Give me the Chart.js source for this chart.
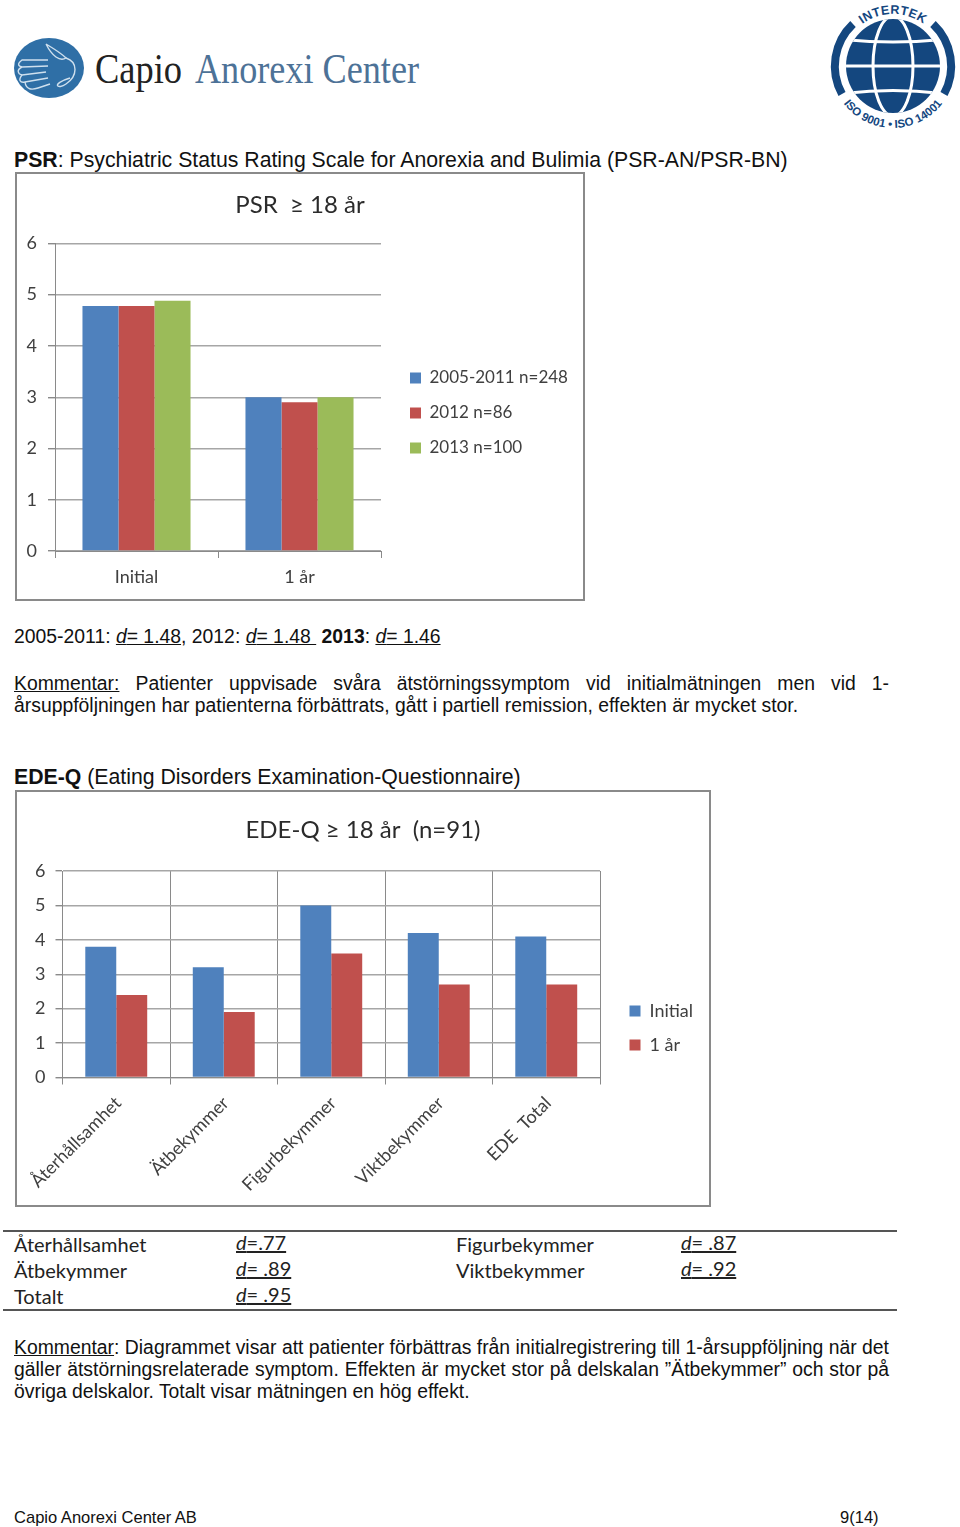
<!DOCTYPE html>
<html>
<head>
<meta charset="utf-8">
<title>PSR och EDE-Q</title>
<script src="https://cdn.jsdelivr.net/npm/chart.js@4"></script>
<style>
html,body{margin:0;padding:0;background:#fff;}
#page{position:relative;width:960px;height:1527px;overflow:hidden;font-family:"Liberation Sans",Arial,sans-serif;color:#111;}
.t{position:absolute;white-space:pre;margin:0;line-height:22px;}
.h{font-size:21.25px;}
.b{font-size:19.37px;}
.j{white-space:normal;width:875px;text-align:justify;text-align-last:justify;}
.c{font-family:Lato,sans-serif;font-size:20px;color:#222;line-height:26px;}
.f{font-size:16.55px;}
canvas{position:absolute;outline:2px solid #8a8a8a;outline-offset:-2px;}
.rule{position:absolute;left:3px;width:894px;height:2px;background:#555;}
svg{position:absolute;overflow:visible;}
</style>
</head>
<body>
<div id="page">
<svg style="left:0;top:0" width="960" height="140">
  <ellipse cx="49" cy="68" rx="35" ry="30" fill="#2f6fa6"/>
  <g fill="none" stroke="#cfe0ee" stroke-width="1.4">
    <path d="M46 44 C56 50 64 56 66 58 C60 62 52 56 46 44"/>
    <path d="M66 58 C78 62 78 76 66 84 C58 90 50 84 70 78"/>
    <path d="M48 60 L22 60 C17 64 18 66 22 67 L48 66"/>
    <path d="M22 67 C16 70 18 74 22 75 L46 72"/>
    <path d="M22 75 C18 80 20 83 25 82 L48 78"/>
    <path d="M25 82 C26 90 32 90 38 88 L50 84"/>
  </g>
  <text x="95" y="83" font-family="'Liberation Serif',serif" font-size="42" textLength="87" lengthAdjust="spacingAndGlyphs" fill="#222">Capio</text>
  <text x="195" y="83" font-family="'Liberation Serif',serif" font-size="42" textLength="224" lengthAdjust="spacingAndGlyphs" fill="#4d7297">Anorexi Center</text>
  <defs>
    <clipPath id="globe"><circle cx="893" cy="66" r="47"/></clipPath>
    <path id="arcTop" d="M841 66 A52 52 0 0 1 945 66"/>
    <path id="arcBot" d="M839.3 35 A62 62 0 1 0 946.7 35"/>
  </defs>
  <circle cx="893" cy="66" r="47" fill="#14477f"/>
  <g clip-path="url(#globe)" fill="none" stroke="#fff" stroke-width="3">
    <ellipse cx="893" cy="66" rx="20" ry="50"/>
    <path d="M840 39 Q893 45 946 39"/>
    <path d="M840 66 L946 66"/>
    <path d="M840 94 Q893 87 946 94"/>
  </g>
  <g fill="none" stroke="#14477f" stroke-width="8">
    <path d="M853 24 A58 58 0 0 0 842 94"/>
    <path d="M933 24 A58 58 0 0 1 944 94"/>
  </g>
  <text font-family="'Liberation Sans',sans-serif" font-weight="bold" font-size="12.5" fill="#14477f" letter-spacing="0.4"><textPath href="#arcTop" startOffset="50%" text-anchor="middle">INTERTEK</textPath></text>
  <text font-family="'Liberation Sans',sans-serif" font-weight="bold" font-size="11.5" fill="#14477f"><textPath href="#arcBot" startOffset="50%" text-anchor="middle">ISO 9001 • ISO 14001</textPath></text>
</svg>

<div class="t h" style="left:14px;top:149px"><b>PSR</b>: Psychiatric Status Rating Scale for Anorexia and Bulimia (PSR-AN/PSR-BN)</div>
<canvas id="psrChart" width="570" height="429" style="left:15px;top:172px"></canvas>
<div class="t b" style="left:14px;top:625px">2005-2011: <u><i>d</i>= 1.48</u>, 2012: <u><i>d</i>= 1.48&nbsp;</u> <b>2013</b>: <u><i>d</i>= 1.46</u></div>
<div class="t b j" style="left:14px;top:672px"><u>Kommentar:</u> Patienter uppvisade svåra ätstörningssymptom vid initialmätningen men vid 1-</div>
<div class="t b" style="left:14px;top:694px">årsuppföljningen har patienterna förbättrats, gått i partiell remission, effekten är mycket stor.</div>

<div class="t h" style="left:14px;top:766px"><b>EDE-Q</b> (Eating Disorders Examination-Questionnaire)</div>
<canvas id="edeChart" width="696" height="417" style="left:15px;top:790px"></canvas>

<div class="rule" style="top:1230px"></div>
<div class="t c" style="left:14px;top:1231px">Återhållsamhet</div>
<div class="t c" style="left:236px;top:1229px"><u><i>d</i>=.77</u></div>
<div class="t c" style="left:456px;top:1231px">Figurbekymmer</div>
<div class="t c" style="left:681px;top:1229px"><u><i>d</i>= .87</u></div>
<div class="t c" style="left:14px;top:1257px">Ätbekymmer</div>
<div class="t c" style="left:236px;top:1255px"><u><i>d</i>= .89</u></div>
<div class="t c" style="left:456px;top:1257px">Viktbekymmer</div>
<div class="t c" style="left:681px;top:1255px"><u><i>d</i>= .92</u></div>
<div class="t c" style="left:14px;top:1283px">Totalt</div>
<div class="t c" style="left:236px;top:1281px"><u><i>d</i>= .95</u></div>
<div class="rule" style="top:1309px"></div>

<div class="t b j" style="left:14px;top:1336px"><u>Kommentar</u>: Diagrammet visar att patienter förbättras från initialregistrering till 1-årsuppföljning när det</div>
<div class="t b j" style="left:14px;top:1358px">gäller ätstörningsrelaterade symptom. Effekten är mycket stor på delskalan ”Ätbekymmer” och stor på</div>
<div class="t b" style="left:14px;top:1380px">övriga delskalor. Totalt visar mätningen en hög effekt.</div>

<div class="t f" style="left:14px;top:1507px">Capio Anorexi Center AB</div>
<div class="t f" style="left:840px;top:1507px">9(14)</div>
</div>

<script>
var psrLabels=["Initial","1 år"];
var psr2005=[4.78,3.0];
var psr2012=[4.78,2.9];
var psr2013=[4.88,3.0];
var psrNames=["2005-2011 n=248","2012 n=86","2013 n=100"];

var edeLabels=["Återhållsamhet","Ätbekymmer","Figurbekymmer","Viktbekymmer","EDE  Total"];
var edeInitial=[3.8,3.2,5.0,4.2,4.1];
var edeOneYear=[2.4,1.9,3.6,2.7,2.7];
var edeNames=["Initial","1 år"];

var blue="#4f81bd", red="#c0504d", green="#9bbb59";
var textCol="#404040";
Chart.defaults.font.family="Lato, sans-serif";
Chart.defaults.animation=false;

// reserve a fixed strip for the legend, then put it where the original has it
var placeLegend={
  id:"placeLegend",
  beforeLayout:function(chart){
    var o=chart.options.plugins.placeLegend, l=chart.legend;
    if(!l.fixedFit){
      var fit=l.fit;
      l.fit=function(){
        fit.call(this);
        this.width=o.space;
      };
      l.fixedFit=true;
    }
  },
  afterLayout:function(chart){
    var o=chart.options.plugins.placeLegend, l=chart.legend;
    var half=Math.min(o.cy, chart.height-o.cy);
    l.left=o.x;
    l.right=chart.width;
    l.top=o.cy-half;
    l.bottom=o.cy+half;
  }
};

function makeChart(id, cfg){
  return new Chart(document.getElementById(id), {
    type:"bar",
    plugins:[placeLegend],
    data:{labels:cfg.labels, datasets:cfg.datasets},
    options:{
      responsive:false,
      categoryPercentage:cfg.catPct,
      barPercentage:1,
      plugins:{
        title:{display:true, text:cfg.title, color:"#2b2b2b", font:{size:cfg.titleSize, weight:"normal"}, padding:cfg.titlePad},
        legend:{position:"right", labels:{boxWidth:11, boxHeight:11, color:textCol, font:{size:cfg.legendSize}, padding:cfg.legendGap}},
        tooltip:{enabled:false},
        placeLegend:{x:cfg.legendX, cy:cfg.legendCy, space:cfg.rightSpace}
      },
      scales:{
        x:{
          afterFit:function(s){s.height=cfg.bottomH;},
          border:{color:"#8a8a8a"},
          grid:{color:"#8a8a8a", tickLength:7, drawOnChartArea:cfg.xGrid},
          ticks:{color:textCol, font:{size:18}, padding:cfg.xPad, labelOffset:cfg.xShift, maxRotation:cfg.rot, minRotation:cfg.rot}
        },
        y:{
          min:0, max:6,
          afterFit:function(s){s.width=cfg.leftW;},
          border:{color:"#8a8a8a"},
          grid:{color:"#a6a6a6", lineWidth:1.4, tickLength:7, tickColor:"#8a8a8a"},
          ticks:{stepSize:1, color:textCol, font:{size:18}, padding:cfg.yPad}
        }
      }
    }
  });
}

makeChart("psrChart", {
  labels:psrLabels,
  datasets:[
    {label:psrNames[0], data:psr2005, backgroundColor:blue},
    {label:psrNames[1], data:psr2012, backgroundColor:red},
    {label:psrNames[2], data:psr2013, backgroundColor:green}
  ],
  title:"PSR  ≥ 18 år", titleSize:24, titlePad:{top:18.6, bottom:24},
  catPct:0.663, xGrid:false, rot:0, xPad:8, xShift:0, yPad:11,
  leftW:40, bottomH:50, rightSpace:204, legendSize:17, legendGap:18, legendX:377, legendCy:241
});

makeChart("edeChart", {
  labels:edeLabels,
  datasets:[
    {label:edeNames[0], data:edeInitial, backgroundColor:blue},
    {label:edeNames[1], data:edeOneYear, backgroundColor:red}
  ],
  title:"EDE-Q ≥ 18 år  (n=91)", titleSize:24, titlePad:{top:25.6, bottom:26.6},
  catPct:0.576, xGrid:true, rot:45, xPad:8, xShift:2, yPad:10,
  leftW:47.5, bottomH:129.5, rightSpace:111, legendSize:18, legendGap:16, legendX:598.5, legendCy:238
});
</script>
</body>
</html>
